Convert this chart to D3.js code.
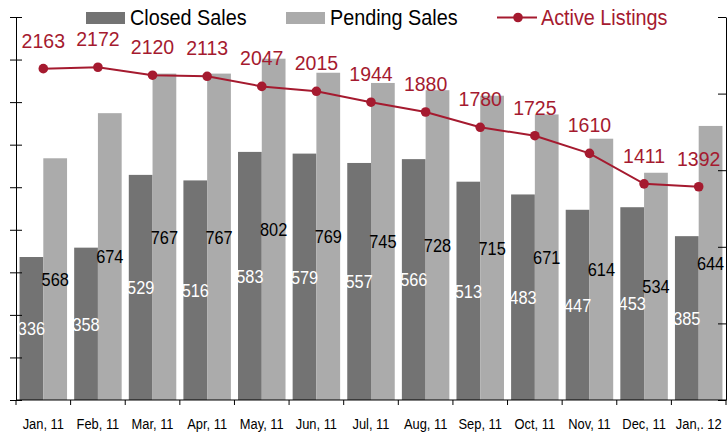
<!DOCTYPE html>
<html>
<head>
<meta charset="utf-8">
<script src="https://cdn.jsdelivr.net/npm/d3@7"></script>
<style>
  body { margin: 0; background: #fff; }
  svg text { font-family: "Liberation Sans", Arial, sans-serif; }
</style>
</head>
<body>
<div id="chart"></div>
<script>
// Chart data
const months = ["Jan, 11", "Feb, 11", "Mar, 11", "Apr, 11", "May, 11", "Jun, 11", "Jul, 11",
                "Aug, 11", "Sep, 11", "Oct, 11", "Nov, 11", "Dec, 11", "Jan,. 12"];
const closedSales = [336, 358, 529, 516, 583, 579, 557, 566, 513, 483, 447, 453, 385];
const pendingSales = [568, 674, 767, 767, 802, 769, 745, 728, 715, 671, 614, 534, 644];
const activeListings = [2163, 2172, 2120, 2113, 2047, 2015, 1944, 1880, 1780, 1725, 1610, 1411, 1392];
const barTicks = [0, 100, 200, 300, 400, 500, 600, 700, 800, 900];
const lineTicks = [0, 500, 1000, 1500, 2000, 2500];

const closedColor = "#737373",
      pendingColor = "#ababab",
      redColor = "#a51a2f";

const width = 728, height = 435;
const plot = {left: 16, right: 726, top: 17, bottom: 400};

const svg = d3.select("#chart")
    .append("svg")
    .attr("width", width)
    .attr("height", height);

// Scales
const x = d3.scaleBand()
    .domain(months)
    .range([plot.left, plot.right])
    .padding(0);

const xSub = d3.scaleBand()
    .domain(["closed", "pending"])
    .range([0, x.bandwidth()])
    .paddingInner(0)
    .paddingOuter(0.15);

const yBar = d3.scaleLinear().domain([0, 900]).range([plot.bottom, plot.top]);
const yLine = d3.scaleLinear().domain([0, 2500]).range([plot.bottom, plot.top]);

const data = months.map((m, i) => ({
    month: m,
    closed: closedSales[i],
    pending: pendingSales[i],
    active: activeListings[i]
}));

// Bars
const groups = svg.selectAll(".month")
    .data(data)
    .join("g")
    .attr("class", "month")
    .attr("transform", d => `translate(${x(d.month)},0)`);

groups.append("rect")
    .attr("x", xSub("closed"))
    .attr("y", d => yBar(d.closed))
    .attr("width", xSub.bandwidth())
    .attr("height", d => plot.bottom - yBar(d.closed))
    .attr("fill", closedColor);

groups.append("rect")
    .attr("x", xSub("pending"))
    .attr("y", d => yBar(d.pending))
    .attr("width", xSub.bandwidth())
    .attr("height", d => plot.bottom - yBar(d.pending))
    .attr("fill", pendingColor);

// Axes
const leftAxis = svg.append("g")
    .attr("transform", `translate(${plot.left},0)`)
    .call(d3.axisLeft(yBar).tickValues(barTicks).tickFormat("").tickSizeInner(6).tickSizeOuter(0));
leftAxis.selectAll(".tick line").attr("x2", -6).attr("x1", 6);

svg.append("g")
    .attr("transform", `translate(${plot.right},0)`)
    .call(d3.axisLeft(yLine).tickValues(lineTicks).tickFormat("").tickSizeInner(8).tickSizeOuter(0));

const xAxis = svg.append("g")
    .attr("transform", `translate(0,${plot.bottom})`)
    .call(d3.axisBottom(x).tickSize(0).tickPadding(18));
xAxis.select(".domain").attr("d", `M${plot.left},0H${plot.right}`);
xAxis.selectAll(".tick text")
    .attr("font-size", 15)
    .attr("fill", "#000")
    .attr("transform", "scale(0.86,1)");

// x tick marks at category boundaries
xAxis.selectAll(".sep")
    .data(months.concat(["end"]))
    .join("line")
    .attr("class", "sep")
    .attr("x1", d => d === "end" ? plot.right : x(d))
    .attr("x2", d => d === "end" ? plot.right : x(d))
    .attr("y1", 0)
    .attr("y2", 5)
    .attr("stroke", "#000");

// Bar labels
groups.append("text")
    .attr("transform", d => `translate(${xSub("closed") + xSub.bandwidth() / 2},${(yBar(d.closed) + plot.bottom) / 2}) scale(0.86,1)`)
    .attr("dy", "0.36em")
    .attr("text-anchor", "middle")
    .attr("font-size", 19)
    .attr("fill", "#fff")
    .text(d => d.closed);

groups.append("text")
    .attr("transform", d => `translate(${xSub("pending") + xSub.bandwidth() / 2},${(yBar(d.pending) + plot.bottom) / 2}) scale(0.86,1)`)
    .attr("dy", "0.36em")
    .attr("text-anchor", "middle")
    .attr("font-size", 19)
    .attr("fill", "#000")
    .text(d => d.pending);

// Active listings line
const cx = d => x(d.month) + x.bandwidth() / 2;

svg.append("path")
    .datum(data)
    .attr("fill", "none")
    .attr("stroke", redColor)
    .attr("stroke-width", 2)
    .attr("d", d3.line().x(cx).y(d => yLine(d.active)));

svg.selectAll(".dot")
    .data(data)
    .join("circle")
    .attr("class", "dot")
    .attr("cx", cx)
    .attr("cy", d => yLine(d.active))
    .attr("r", 4.8)
    .attr("fill", redColor);

svg.selectAll(".active-label")
    .data(data)
    .join("text")
    .attr("class", "active-label")
    .attr("x", cx)
    .attr("y", d => yLine(d.active) - 21)
    .attr("text-anchor", "middle")
    .attr("font-size", 19.5)
    .attr("fill", redColor)
    .text(d => d.active);

// Legend
const legend = svg.append("g");

legend.append("rect").attr("x", 86).attr("y", 12).attr("width", 39).attr("height", 12).attr("fill", closedColor);
legend.append("text")
    .attr("transform", "translate(130,24.5) scale(0.9,1)")
    .attr("font-size", 22)
    .text("Closed Sales");

legend.append("rect").attr("x", 286).attr("y", 12).attr("width", 39).attr("height", 12).attr("fill", pendingColor);
legend.append("text")
    .attr("transform", "translate(330,24.5) scale(0.9,1)")
    .attr("font-size", 22)
    .text("Pending Sales");

legend.append("line").attr("x1", 497).attr("x2", 537).attr("y1", 17.5).attr("y2", 17.5)
    .attr("stroke", redColor).attr("stroke-width", 2);
legend.append("circle").attr("cx", 518).attr("cy", 17.5).attr("r", 4.8).attr("fill", redColor);
legend.append("text")
    .attr("transform", "translate(541,24.5) scale(0.9,1)")
    .attr("font-size", 22)
    .attr("fill", redColor)
    .text("Active Listings");
</script>
</body>
</html>
